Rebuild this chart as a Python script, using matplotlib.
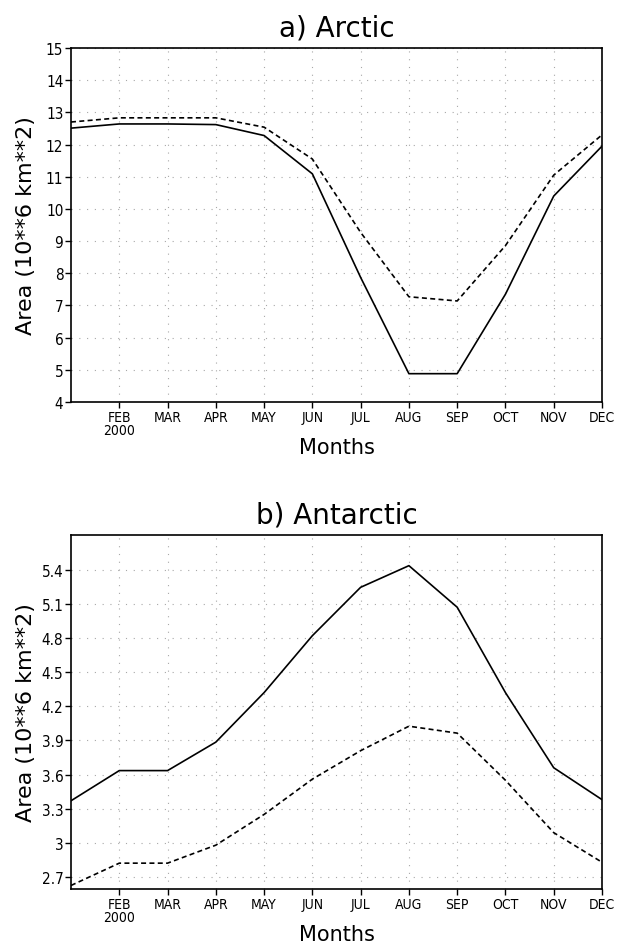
import matplotlib
matplotlib.use("Agg")
import matplotlib.pyplot as plt
import numpy as np
from matplotlib.ticker import FuncFormatter

months = ["JAN", "FEB", "MAR", "APR", "MAY", "JUN", "JUL", "AUG", "SEP", "OCT", "NOV", "DEC"]
tick_labels = ["FEB\n2000", "MAR", "APR", "MAY", "JUN", "JUL", "AUG", "SEP", "OCT", "NOV", "DEC"]

arctic_solid = [12.51, 12.64, 12.64, 12.62, 12.28, 11.09, 7.87, 4.88, 4.88, 7.35, 10.40, 11.95]
arctic_dashed = [12.70, 12.83, 12.83, 12.83, 12.54, 11.55, 9.27, 7.27, 7.14, 8.86, 11.05, 12.30]

antarctic_solid = [3.37, 3.635, 3.635, 3.885, 4.32, 4.82, 5.245, 5.435, 5.07, 4.32, 3.66, 3.38]
antarctic_dashed = [2.626, 2.822, 2.822, 2.98, 3.25, 3.56, 3.81, 4.025, 3.964, 3.55, 3.09, 2.83]

arctic_yticks = list(range(4, 16))
antarctic_yticks = [2.7, 3.0, 3.3, 3.6, 3.9, 4.2, 4.5, 4.8, 5.1, 5.4]

FONT = ["DejaVu Sans"]

fig = plt.figure(figsize=(6.19, 9.45), dpi=100)

def style_axes(ax, ylim, yticks, title):
    ax.set_xlim(0, 11)
    ax.set_ylim(*ylim)
    ax.set_xticks(np.arange(1, len(months)))
    ax.set_xticklabels(tick_labels, fontfamily=FONT, fontstretch="condensed",
                       fontsize=10, linespacing=0.9)
    ax.set_yticks(yticks)
    ax.yaxis.set_major_formatter(FuncFormatter(lambda v, p: f"{v:g}"))
    for lab in ax.get_yticklabels():
        lab.set_fontfamily(FONT)
        lab.set_fontstretch("condensed")
        lab.set_fontsize(11)
    ax.tick_params(direction="out", length=4, width=1.0, pad=1.5, colors="black")
    ax.grid(True, color="#a8a8a8", linestyle=(0, (1, 6)), linewidth=0.8)
    for s in ax.spines.values():
        s.set_linewidth(1.2)
        s.set_color("black")
    ax.set_title(title, fontfamily=FONT, fontsize=20, pad=9)
    ax.set_xlabel("Months", fontfamily=FONT, fontsize=15, labelpad=0)
    ax.set_ylabel("Area (10**6 km**2)", fontfamily=FONT, fontsize=16)
    ax.yaxis.set_label_coords(-0.066, 0.5)

x = np.arange(len(months))

ax1 = fig.add_axes([71/619, 1-403/945, 531/619, 354/945])
ax1.plot(x, arctic_solid, color="black", lw=1.2)
ax1.plot(x, arctic_dashed, color="black", lw=1.2, linestyle=(0, (3, 2)))
style_axes(ax1, (4, 15), arctic_yticks, "a) Arctic")

ax2 = fig.add_axes([71/619, 1-890/945, 531/619, 354.3/945])
ax2.plot(x, antarctic_solid, color="black", lw=1.2)
ax2.plot(x, antarctic_dashed, color="black", lw=1.2, linestyle=(0, (3, 2)))
style_axes(ax2, (2.595, 5.707), antarctic_yticks, "b) Antarctic")

fig.savefig("out.png", dpi=100)
